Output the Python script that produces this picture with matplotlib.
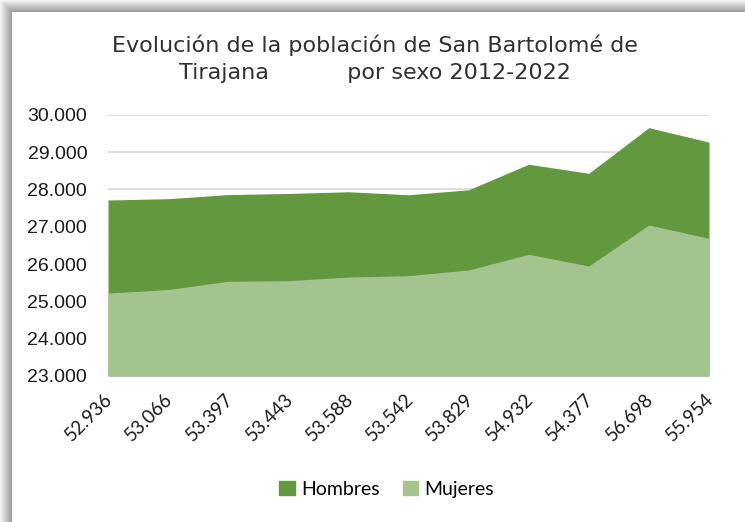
import numpy as np
import matplotlib
matplotlib.use('Agg')
import matplotlib.pyplot as plt
from matplotlib.patches import Patch
from matplotlib.ticker import FuncFormatter
from matplotlib.transforms import ScaledTranslation


# Data
totales = ['52.936', '53.066', '53.397', '53.443', '53.588', '53.542',
           '53.829', '54.932', '54.377', '56.698', '55.954']
hombres = [27715, 27750, 27860, 27890, 27936, 27855, 27989, 28672, 28430, 29653, 29266]
mujeres = [25221, 25316, 25537, 25553, 25652, 25687, 25840, 26260, 25947, 27045, 26688]

verde_oscuro = '#62993E'
verde_claro = '#A3C48F'

fig = plt.figure(figsize=(7.45, 5.22), dpi=100)

# Drop shadow along the top and left edges
bg = fig.add_axes([0, 0, 1, 1], zorder=-10)
bg.set_xlim(0, 745)
bg.set_ylim(522, 0)
bg.axis('off')
shade = np.linspace(0.95, 0.62, 12)
for i, g in enumerate(shade):
    bg.add_patch(plt.Rectangle((i, i), 745 - i, 1, color=str(g), lw=0))
    bg.add_patch(plt.Rectangle((i, i), 1, 522 - i, color=str(g), lw=0))

ax = fig.add_axes([108 / 745, (522 - 376) / 522, (709 - 108) / 745, (376 - 114.7) / 522])
x = np.arange(len(totales))
ax.fill_between(x, 23000, hombres, color=verde_oscuro, lw=0, zorder=2)
ax.fill_between(x, 23000, mujeres, color=verde_claro, lw=0, zorder=3)

ax.set_xlim(0, len(totales) - 1)
ax.set_ylim(23000, 30000)
ax.set_yticks(np.arange(23000, 30001, 1000))
ax.yaxis.set_major_formatter(FuncFormatter(lambda v, p: f'{int(v):,}'.replace(',', '.')))
ax.grid(axis='y', color='#D9D9D9', lw=1.2, zorder=1)
ax.set_axisbelow(True)
for s in ax.spines.values():
    s.set_visible(False)
ax.tick_params(length=0)
ax.tick_params(axis='y', pad=15, labelsize=14, colors='#1a1a1a')
ax.tick_params(axis='x', pad=8)

ax.set_xticks(x)
ax.set_xticklabels(totales, rotation=45, ha='right', rotation_mode='anchor',
                   fontsize=13.5, family='Lato', color='#1a1a1a')
# nudge the rotated labels a little left and down
shift = ScaledTranslation(-4 / 100, -3 / 100, fig.dpi_scale_trans)
for lab in ax.get_xticklabels():
    lab.set_transform(lab.get_transform() + shift)
for lab in ax.get_yticklabels():
    lab.set_family('Liberation Sans')

fig.text(0.503, 0.913, 'Evolución de la población de San Bartolomé de',
         ha='center', va='center', fontsize=16, family='DejaVu Sans', color='#303030')
fig.text(0.503, 0.860, 'Tirajana           por sexo 2012-2022',
         ha='center', va='center', fontsize=16, family='DejaVu Sans', color='#303030')

handles = [Patch(color=verde_oscuro, label='Hombres'), Patch(color=verde_claro, label='Mujeres')]
fig.legend(handles=handles, loc='center', bbox_to_anchor=(0.519, 0.063), ncol=2,
           frameon=False, prop={'family': 'Lato', 'size': 14}, handlelength=0.8,
           handleheight=0.8, handletextpad=0.3, columnspacing=1.2)

fig.savefig('out.png', dpi=100, facecolor='white')
